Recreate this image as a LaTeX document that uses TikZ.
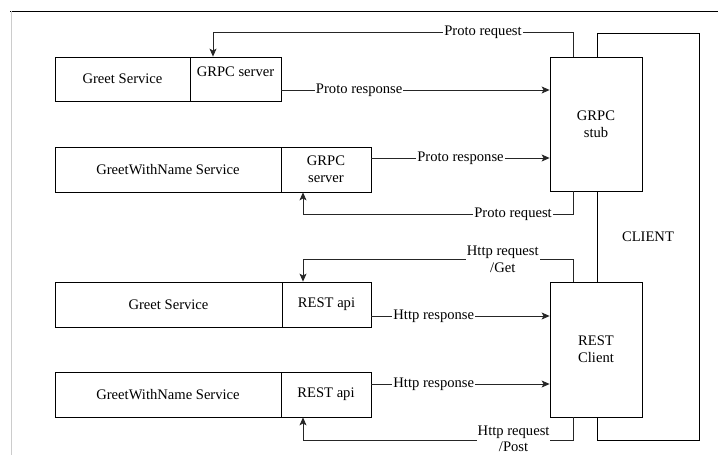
\documentclass[tikz,border=0pt]{standalone}
\usepackage{fontspec}
\setmainfont{Liberation Serif}
\usetikzlibrary{arrows.meta}
\begin{document}
\begin{tikzpicture}[x=1pt,y=-1pt,
  every node/.style={font=\rmfamily\fontsize{14.6}{17}\selectfont},
  cell/.style={draw=black,line width=0.8pt,fill=white,rectangle,inner sep=0pt,align=center},
  conn/.style={draw=black!85,line width=0.8pt},
  arr/.style={conn,-{Stealth[length=8pt,width=7pt,inset=2pt]}},
  lbl/.style={fill=white,inner sep=1pt,align=center}]
\useasboundingbox (0,0) rectangle (718,455);
\fill[white] (0,0) rectangle (718,455);
\draw[black,line width=0.9pt] (10,11) -- (718,11);
\draw[black!20,line width=0.9pt] (11,11) -- (11,455);

% client container
\node[cell,minimum width=102pt,minimum height=407pt] (client) at (648,236.5) {CLIENT};
\node[cell,minimum width=92pt,minimum height=134pt] (stub) at (596,124) {GRPC\\stub};
\node[cell,minimum width=92pt,minimum height=135pt] (rc) at (596,349.5) {REST\\Client};

% services
\node[cell,minimum width=135pt,minimum height=44pt] (g1l) at (122.5,79) {Greet Service};
\node[cell,minimum width=91pt,minimum height=44pt] (g1r) at (235.5,79) {};
\node[inner sep=0pt] (g1t) at (235.5,72) {GRPC server};

\node[cell,minimum width=226pt,minimum height=45pt] (g2l) at (168,169.5) {GreetWithName Service};
\node[cell,minimum width=90pt,minimum height=45pt] (g2r) at (326,169.5) {GRPC\\server};

\node[cell,minimum width=227pt,minimum height=45pt] (g3l) at (168.5,304.5) {Greet Service};
\node[cell,minimum width=89pt,minimum height=45pt] (g3r) at (326.5,304.5) {REST api};

\node[cell,minimum width=226pt,minimum height=45pt] (g4l) at (168,394.5) {GreetWithName Service};
\node[cell,minimum width=90pt,minimum height=45pt] (g4r) at (326,394.5) {REST api};

% GRPC connectors
\draw[arr] ([xshift=-23pt]stub.north) -- ++(0,-24) -| node[lbl,pos=0.125]{Proto request} ([xshift=-22.5pt]g1r.north);
\draw[arr] ([yshift=-11pt]g1r.east) -- node[lbl,pos=0.29]{Proto response} ([yshift=34pt]stub.west);
\draw[arr] ([yshift=11.5pt]g2r.east) -- node[lbl,pos=0.5]{Proto response} ([yshift=-34pt]stub.west);
\draw[arr] ([xshift=-23pt]stub.south) -- ++(0,23) -| node[lbl,pos=0.111]{Proto request} ([xshift=-23pt]g2r.south);

% REST connectors
\draw[arr] ([xshift=-23pt]rc.north) -- ++(0,-22) -| node[lbl,pos=0.13]{Http request\\/Get} ([xshift=-23.5pt]g3r.north);
\draw[arr] ([yshift=-11.5pt]g3r.east) -- node[lbl,pos=0.35]{Http response} ([yshift=33.5pt]rc.west);
\draw[arr] ([yshift=10.5pt]g4r.east) -- node[lbl,pos=0.35]{Http response} ([yshift=-34.5pt]rc.west);
\draw[arr] ([xshift=-23pt]rc.south) -- ++(0,23) -| node[lbl,pos=0.11,yshift=1.5pt,font=\rmfamily\fontsize{14.6}{16}\selectfont]{Http request\\/Post} ([xshift=-23pt]g4r.south);
\end{tikzpicture}
\end{document}
